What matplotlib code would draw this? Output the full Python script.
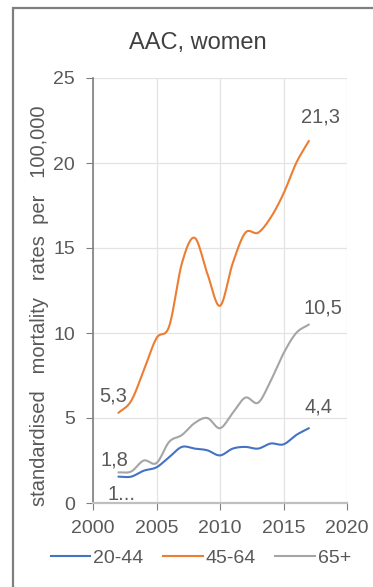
import numpy as np
import matplotlib
matplotlib.use("Agg")
import matplotlib.pyplot as plt
from matplotlib.patches import Rectangle
from matplotlib.lines import Line2D

years = list(range(2002, 2018))
age_20_44 = [1.55, 1.55, 1.9, 2.1, 2.7, 3.3, 3.2, 3.1, 2.8, 3.2, 3.3, 3.2, 3.5, 3.45, 4.0, 4.4]
age_45_64 = [5.3, 6.0, 7.8, 9.7, 10.4, 14.1, 15.6, 13.5, 11.6, 14.1, 15.9, 15.9, 16.8, 18.2, 20.0, 21.3]
age_65p = [1.8, 1.85, 2.5, 2.35, 3.6, 4.0, 4.7, 5.0, 4.4, 5.3, 6.2, 5.9, 7.2, 8.8, 10.0, 10.5]
series_names = ["20-44", "45-64", "65+"]
colors = ["#4472C4", "#ED7D31", "#A5A5A5"]
start_labels = ["1...", "5,3", "1,8"]
end_labels = ["4,4", "21,3", "10,5"]
x_ticks = [2000, 2005, 2010, 2015, 2020]
y_ticks = [0, 5, 10, 15, 20, 25]

plt.rcParams['font.family'] = ['Liberation Sans', 'DejaVu Sans']
TXT = "#595959"


def smooth(x, y, n=20):
    x = np.asarray(x, float)
    y = np.asarray(y, float)
    px = np.concatenate([[2 * x[0] - x[1]], x, [2 * x[-1] - x[-2]]])
    py = np.concatenate([[2 * y[0] - y[1]], y, [2 * y[-1] - y[-2]]])
    xs, ys = [], []
    t = np.linspace(0, 1, n, endpoint=False)
    for i in range(1, len(px) - 2):
        p0, p1, p2, p3 = (np.array([px[j], py[j]]) for j in range(i - 1, i + 3))
        c1 = p1 + (p2 - p0) / 6
        c2 = p2 - (p3 - p1) / 6
        b = ((1 - t) ** 3)[:, None] * p1 + (3 * (1 - t) ** 2 * t)[:, None] * c1 \
            + (3 * (1 - t) * t ** 2)[:, None] * c2 + (t ** 3)[:, None] * p2
        xs.extend(b[:, 0]); ys.extend(b[:, 1])
    xs.append(x[-1]); ys.append(y[-1])
    return np.array(xs), np.array(ys)


fig = plt.figure(figsize=(3.73, 5.87), dpi=100)
fig.patches.append(Rectangle((13 / 373, -0.1), 1.2, 1 - 8 / 587 + 0.1,
                             transform=fig.transFigure, fill=False,
                             edgecolor="#7f7f7f", linewidth=1.6))
ax = fig.add_axes([93 / 373, 1 - 503 / 587, 254 / 373, 425 / 587])

data = [age_20_44, age_45_64, age_65p]
for vals, c in zip(data, colors):
    sx, sy = smooth(years, vals)
    ax.plot(sx, sy, color=c, linewidth=1.5, solid_capstyle='round', zorder=3)

offsets_start = [(2, -13), (-4, 12), (-3, 9)]
offsets_end = [(7, 15), (8, 17), (10, 12)]
for vals, sl, el, os_, oe in zip(data, start_labels, end_labels, offsets_start, offsets_end):
    ax.annotate(sl, (years[0], vals[0]), xytext=os_, textcoords='offset points',
                ha='center', va='center', fontsize=14.5, color=TXT)
    ax.annotate(el, (years[-1], vals[-1]), xytext=oe, textcoords='offset points',
                ha='center', va='center', fontsize=14.5, color=TXT)

ax.set_xlim(2000, 2020)
ax.set_ylim(0, 25)
ax.set_xticks(x_ticks)
ax.set_yticks(y_ticks)
ax.grid(True, color="#e3e3e3", linewidth=0.9)
ax.set_axisbelow(True)
for s in ['top', 'right']:
    ax.spines[s].set_visible(False)
ax.spines['left'].set_color("#7f7f7f")
ax.spines['left'].set_linewidth(1.2)
ax.spines['bottom'].set_color("#bfbfbf")
ax.spines['bottom'].set_linewidth(1.6)
ax.tick_params(axis='y', direction='out', length=5, color="#7f7f7f", labelsize=14, labelcolor=TXT, pad=8)
ax.tick_params(axis='x', direction='out', length=5, color="#7f7f7f", labelsize=14, labelcolor=TXT, pad=7)

fig.text(198 / 373, 1 - 43 / 587, "AAC, women", ha='center', va='center', fontsize=17, color="#404040")
fig.text(40 / 373, 1 - 306 / 587, "standardised   mortality   rates  per   100,000", rotation=90,
         ha='center', va='center', fontsize=14.5, color=TXT)

handles = [Line2D([0], [0], color=c, linewidth=1.5) for c in colors]
fig.legend(handles, series_names, loc='center', bbox_to_anchor=(201 / 373, 1 - 558 / 587),
           ncol=3, frameon=False, fontsize=14, labelcolor=TXT, handlelength=2.05,
           handletextpad=0.15, columnspacing=1.0, borderpad=0)

fig.savefig("out.png", dpi=100)
